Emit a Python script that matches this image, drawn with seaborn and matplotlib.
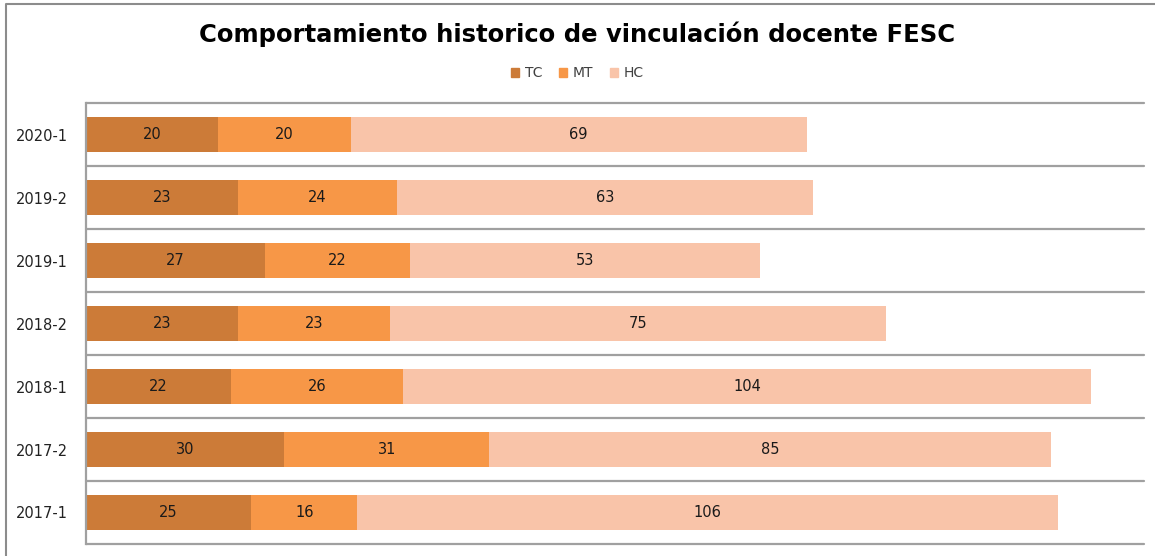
import matplotlib
matplotlib.use('Agg')
from matplotlib import pyplot as plt
from matplotlib.lines import Line2D
import pandas as pd
import seaborn as sns

# Datos
periodos = ['2020-1', '2019-2', '2019-1', '2018-2', '2018-1', '2017-2', '2017-1']
tc = [20, 23, 27, 23, 22, 30, 25]
mt = [20, 24, 22, 23, 26, 31, 16]
hc = [69, 63, 53, 75, 104, 85, 106]
series = ['TC', 'MT', 'HC']
colores = ['#cc7b38', '#f79747', '#f9c4a9']

df = pd.DataFrame({'Periodo': periodos, 'TC': tc, 'MT': mt, 'HC': hc})
df['c_TC'] = df.TC
df['c_MT'] = df.TC + df.MT
df['c_HC'] = df.TC + df.MT + df.HC

sns.set_style('white')
plt.rcParams['font.family'] = ['DejaVu Sans']

fig = plt.figure(figsize=(11.55, 5.56), dpi=100)
ax = fig.add_axes([86 / 1155, 1 - 544 / 556, (1144 - 86) / 1155, (544 - 103) / 556])

# barras apiladas: se dibuja primero el total
for serie, color in zip(series[::-1], colores[::-1]):
    sns.barplot(data=df, x='c_' + serie, y='Periodo', order=periodos,
                color=color, width=0.55, ax=ax, saturation=1, linewidth=0)

# etiquetas de valor al centro de cada segmento
for i, row in df.iterrows():
    base = 0
    for serie in series:
        val = row[serie]
        ax.text(base + val / 2, i, str(val), ha='center', va='center',
                fontsize=10.5, color='#1a1a1a')
        base += val

# lineas separadoras
for k in range(len(periodos) + 1):
    ax.axhline(k - 0.5, color='#a0a0a0', linewidth=1.6, zorder=0.5, clip_on=False)

ax.set_xlim(0, 160)
ax.set_ylim(len(periodos) - 0.5, -0.5)
ax.set_xticks([])
ax.set_xlabel('')
ax.set_ylabel('')
ax.tick_params(axis='y', length=0, labelsize=10.5, pad=13, labelcolor='#222222')
for lado in ['top', 'right', 'bottom']:
    ax.spines[lado].set_visible(False)
ax.spines['left'].set_color('#a0a0a0')
ax.spines['left'].set_linewidth(1.6)

# leyenda
handles = [plt.Rectangle((0, 0), 1, 1, color=c) for c in colores]
fig.legend(handles, series, loc='center', bbox_to_anchor=(0.5, 1 - 73 / 556),
           ncol=3, frameon=False, fontsize=10, handlelength=0.6, handleheight=0.6,
           handletextpad=0.4, columnspacing=1.2, labelcolor='#404040')

fig.text(0.5, 1 - 34 / 556, 'Comportamiento historico de vinculación docente FESC',
         ha='center', va='center', fontsize=17.5, fontweight='bold', color='black')

# borde del grafico (solo arriba e izquierda)
x0, y_top = 6 / 1155, 1 - 4 / 556
fig.lines.append(Line2D([x0, x0, 1.0], [0.0, y_top, y_top], transform=fig.transFigure,
                        color='#8c8c8c', linewidth=1.5))

fig.savefig('out.png', dpi=100)
